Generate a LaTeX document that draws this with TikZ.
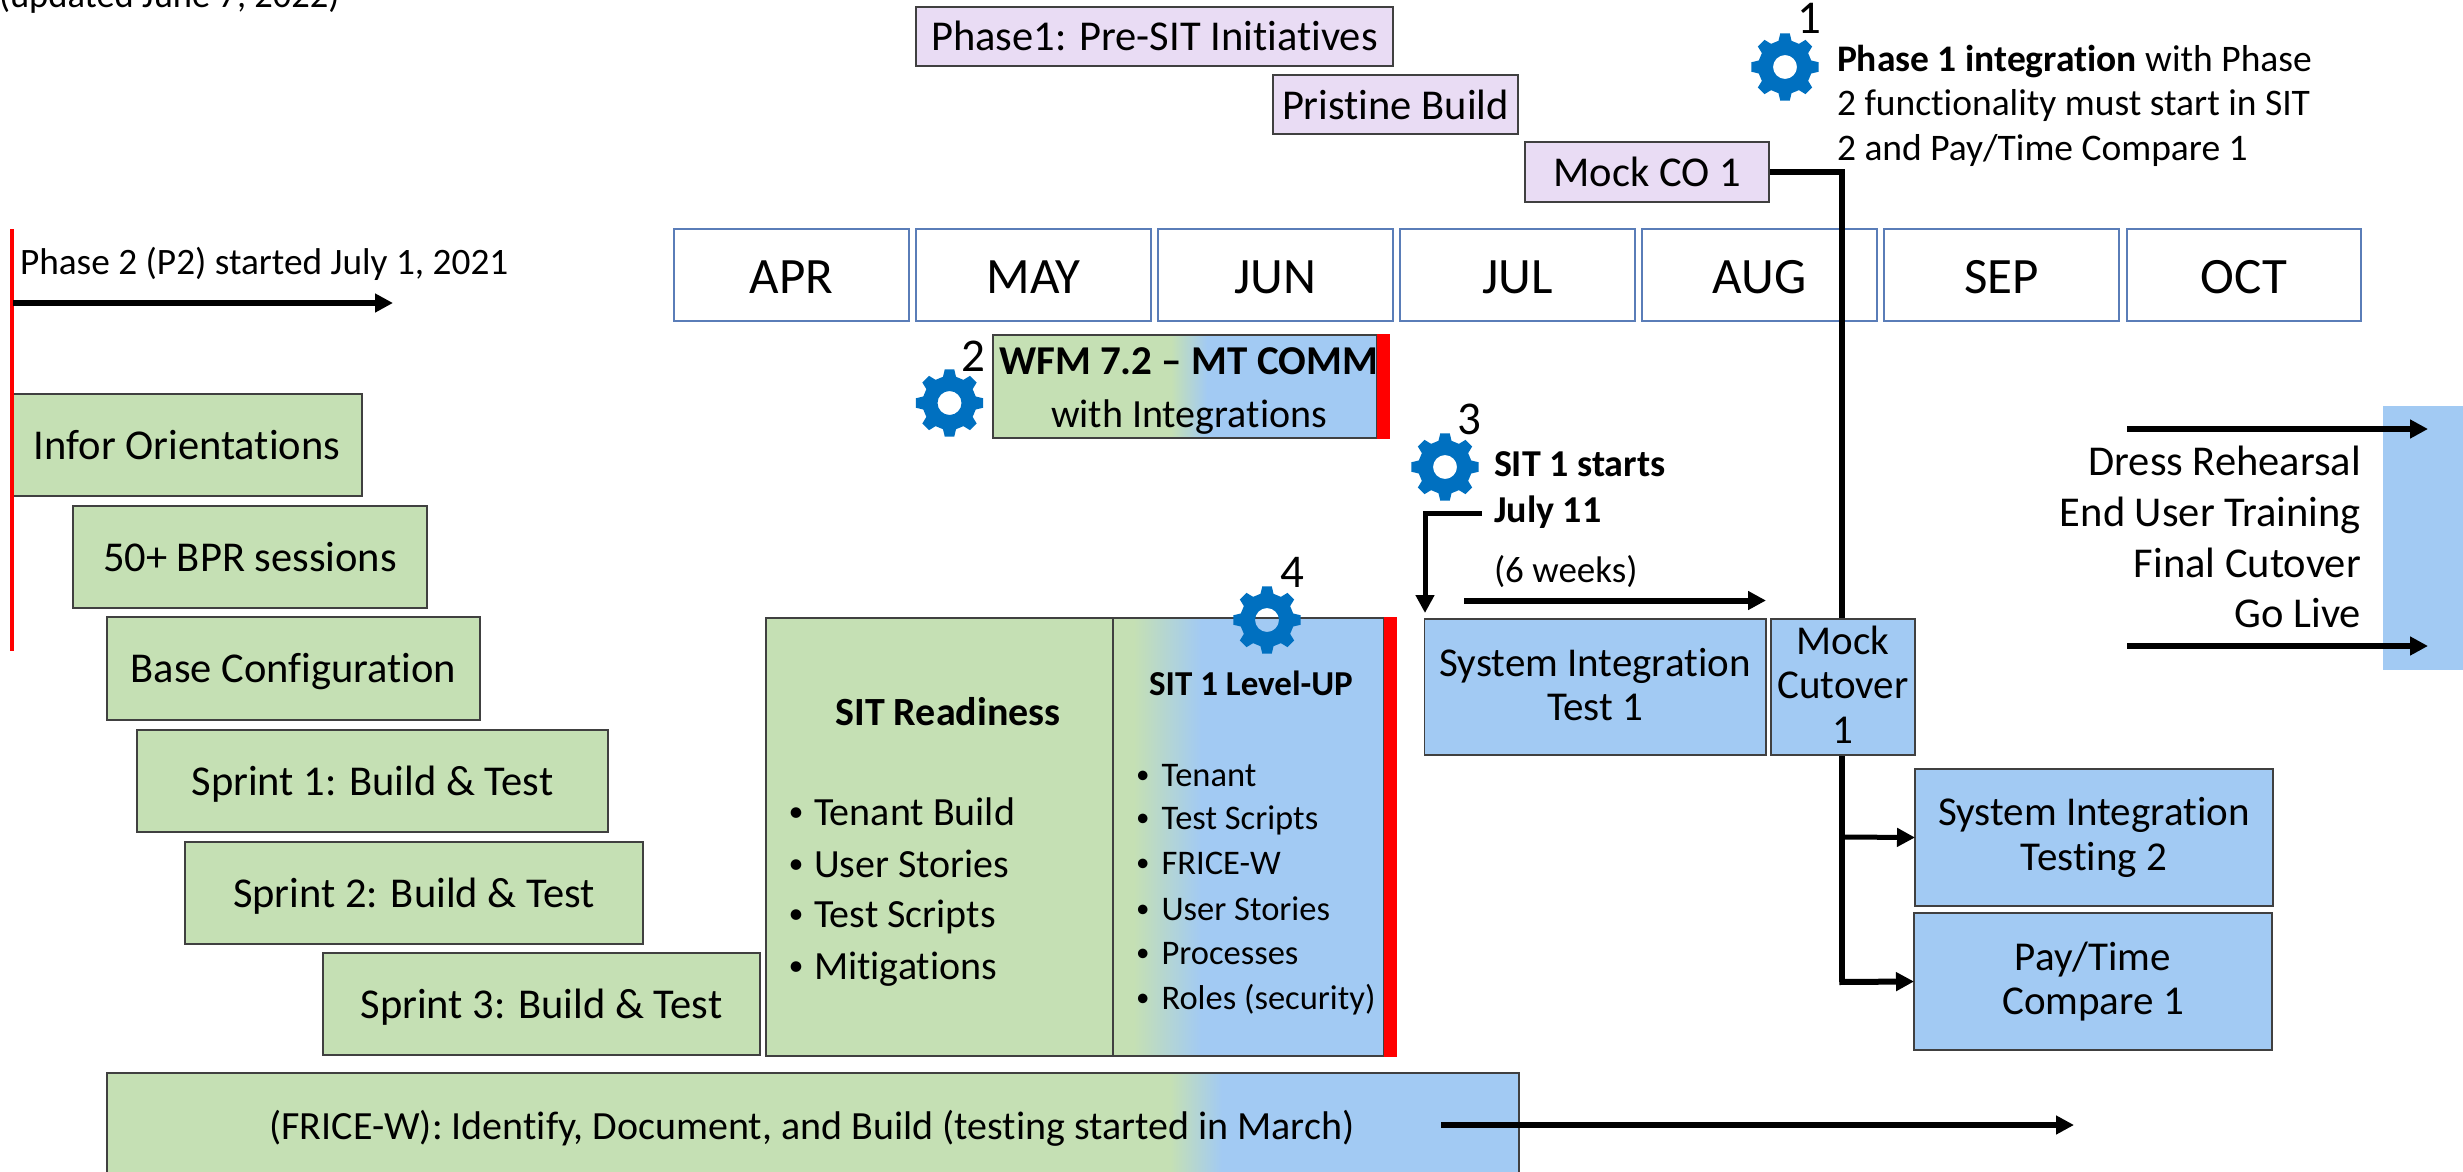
\documentclass[tikz,border=0pt]{standalone}
\usepackage{fontspec}
\setmainfont{Carlito}[Ligatures=NoCommon]
\usetikzlibrary{arrows.meta}
\definecolor{gr}{HTML}{C5E0B4}
\definecolor{bl}{HTML}{A2CAF3}
\definecolor{pu}{HTML}{E9DCF4}
\definecolor{bd}{HTML}{404040}
\definecolor{mo}{HTML}{5A7DB8}
\definecolor{gearblue}{HTML}{0070C0}
\pgfdeclarelayer{bottom}
\pgfdeclarelayer{lines}
\pgfsetlayers{bottom,lines,main}
\newcommand{\fs}[2]{\fontsize{#1}{#2}\selectfont}
\newcommand{\mybox}[7]{\node[shapebox,#6,minimum width={(#4-#2)*1pt},minimum height={(#5-#3)*1pt}] (#1) at ({(#2+#4)/2},{(#3+#5)/2}) {#7};}
\newcommand{\gradfill}[6]{%
  \fill[gr] (#1,#2) rectangle (#5+1,#4);
  \fill[bl] (#6-1,#2) rectangle (#3,#4);
  \shade[left color=gr,right color=bl] (#5,#2) rectangle (#6,#4);}
\newcommand{\bigbul}{\raisebox{3.5pt}{\fs{30}{30}•}}
\newcommand{\smallbul}{\raisebox{3pt}{\fs{27}{27}•}}
\tikzset{
  shapebox/.style={rectangle,inner sep=0pt,outer sep=0pt,align=center,text=black,font=\fs{41}{44.5}},
  greenbox/.style={draw=bd,line width=1.5pt,fill=gr,font=\fs{42.5}{44},text height=28pt,text depth=0pt},
  bluebox/.style={draw=bd,line width=1.5pt,fill=bl},
  purplebox/.style={draw=bd,line width=1.5pt,fill=pu,font=\fs{42.5}{44},text height=29pt,text depth=0pt},
  openbox/.style={draw=bd,line width=1.5pt},
  monthbox/.style={draw=mo,line width=1.5pt,fill=white,font=\fs{51}{54},text height=36pt,text depth=0pt},
  txt/.style={inner sep=0pt,outer sep=0pt,anchor=base west,font=\fs{41}{44}},
  numtxt/.style={inner sep=0pt,outer sep=0pt,anchor=base,font=\fs{47}{50}},
  thickarrow/.style={line width=6pt,-{Triangle[length=18pt,width=18pt]}},
  thinarrow/.style={line width=5pt,-{Triangle[length=18pt,width=18pt]}},
  gearicon/.pic={
    \fill[gearblue,even odd rule] (-14:27)
      \foreach \a in {0,45,...,315}{ -- (\a-14:27) -- (\a-8:34) -- (\a+8:34) -- (\a+14:27) } -- cycle
      (0,0) circle[radius=12];
  }
}
\begin{document}
\begin{tikzpicture}[x=1pt,y=-1pt]
\useasboundingbox (0,0) rectangle (2463,1172);
\clip (0,0) rectangle (2463,1172);

% title fragment and phase 2 start
\node[txt,font=\fs{36.5}{40}] (updated) at (-1,8) {(updated June 7, 2022)};
\node[txt,font=\fs{37.3}{40}] (p2text) at (20,274) {Phase 2 (P2) started July 1, 2021};

% months
\begin{pgfonlayer}{bottom}
\mybox{apr}{674}{229}{909}{321}{monthbox}{APR}
\mybox{may}{916}{229}{1151}{321}{monthbox}{MAY}
\mybox{jun}{1158}{229}{1393}{321}{monthbox}{JUN}
\mybox{jul}{1400}{229}{1635}{321}{monthbox}{JUL}
\mybox{aug}{1642}{229}{1877}{321}{monthbox}{AUG}
\mybox{sep}{1884}{229}{2119}{321}{monthbox}{SEP}
\mybox{oct}{2127}{229}{2361}{321}{monthbox}{OCT}
\end{pgfonlayer}

% phase 1 boxes
\mybox{pre}{916}{7}{1393}{66}{purplebox}{Phase1: Pre-SIT Initiatives}
\mybox{pristine}{1273}{75}{1518}{134}{purplebox}{Pristine Build}
\mybox{mockco}{1525}{142}{1769}{202}{purplebox}{Mock CO 1}

% left staircase
\mybox{infor}{12}{394}{362}{496}{greenbox}{Infor Orientations}
\mybox{bpr}{73}{506}{427}{608}{greenbox}{50+ BPR sessions}
\mybox{base}{107}{617}{480}{720}{greenbox}{Base Configuration}
\mybox{s1}{137}{730}{608}{832}{greenbox}{Sprint 1: Build \& Test}
\mybox{s2}{185}{842}{643}{944}{greenbox}{Sprint 2: Build \& Test}
\mybox{s3}{323}{953}{760}{1055}{greenbox}{Sprint 3: Build \& Test}

% FRICE-W
\gradfill{107}{1073}{1519}{1190}{1170}{1222}
\mybox{frice}{107}{1073}{1519}{1190}{openbox}{}
\node[txt,anchor=base,font=\fs{40}{44}] (fricetext) at (812,1139) {(FRICE-W): Identify, Document, and Build (testing started in March)};

% SIT Readiness / Level-UP
\mybox{ready}{766}{618}{1113}{1056}{draw=bd,line width=1.5pt,fill=gr}{}
\gradfill{1113}{618}{1384}{1056}{1134}{1201}
\mybox{level}{1113}{618}{1384}{1056}{openbox}{}
\fill[red] (1384,617) rectangle (1397,1057);
\node[txt,anchor=base,font=\bfseries\fs{40}{44}] (readytitle) at (948,725) {SIT Readiness};
\node[txt,anchor=base,font=\bfseries\fs{35}{38}] (leveltitle) at (1251,695) {SIT 1 Level-UP};
\foreach \n/\y/\t in {a/825/Tenant Build,b/877/User Stories,c/927/Test Scripts,d/979/Mitigations}
  \node[txt,font=\fs{40}{44}] (ready\n) at (788.5,\y) {\makebox[25.5pt][l]{\bigbul}\t};
\foreach \n/\y/\t in {a/786/Tenant,b/829/Test Scripts,c/874.5/FRICE-W,d/920/User Stories,e/964/Processes,f/1009.5/Roles (security)}
  \node[txt,font=\fs{34.5}{38}] (level\n) at (1136,\y) {\makebox[25.5pt][l]{\smallbul}\t};

% WFM
\gradfill{993}{335}{1377}{438}{1171}{1207}
\mybox{wfm}{993}{335}{1377}{438}{openbox}{}
\fill[red] (1377,334) rectangle (1390,439);
\node[txt,anchor=base,font=\bfseries\fs{41}{44}] (wfma) at (1188.5,374) {WFM 7.2 – MT COMM};
\node[txt,anchor=base,font=\fs{40}{44}] (wfmb) at (1189,427) {with Integrations};

% SIT / mock / compare
\mybox{sit1}{1424.5}{619}{1766}{755}{bluebox}{System Integration\\Test 1\rule[-5pt]{0pt}{0pt}}
\mybox{mock1}{1771}{619}{1915}{755}{bluebox}{Mock\\Cutover\\1\rule[-5pt]{0pt}{0pt}}
\mybox{sit2}{1915}{769}{2273}{906}{bluebox}{System Integration\\Testing 2}
\mybox{pay}{1914}{913}{2272}{1050}{bluebox}{Pay/Time\\Compare 1}

% go-live band
\mybox{golive}{2383}{406}{2470}{670}{fill=bl}{}
\node[txt,anchor=base east,font=\fs{42.5}{44}] (dress) at (2361,475) {Dress Rehearsal};
\node[txt,anchor=base east,font=\fs{42.5}{44}] (eut) at (2361,526.5) {End User Training};
\node[txt,anchor=base east,font=\fs{42.5}{44}] (final) at (2361,577.5) {Final Cutover};
\node[txt,anchor=base east,font=\fs{42.5}{44}] (golivetxt) at (2361,627) {Go Live};

% annotations
\node[txt,font=\fs{37.5}{45}] (p1a) at (1837,71) {\textbf{Phase 1 integration} with Phase};
\node[txt,font=\fs{37.5}{45}] (p1b) at (1837,115.5) {2 functionality must start in SIT};
\node[txt,font=\fs{37.5}{45}] (p1c) at (1837,160) {2 and Pay/Time Compare 1};
\node[txt,font=\bfseries\fs{38}{45}] (sitstart) at (1494,476) {SIT 1 starts};
\node[txt,font=\bfseries\fs{38}{45}] (sitdate) at (1494,522) {July 11};
\node[txt,font=\fs{37}{40}] (six) at (1494,582) {(6 weeks)};

% gears and numbers
\pic (g1) at (1785,67) {gearicon};
\pic (g2) at (949.5,403) {gearicon};
\pic (g3) at (1445,467) {gearicon};
\pic (g4) at (1267,620) {gearicon};
\node[numtxt] (n1) at (1809.5,34) {1};
\node[numtxt] (n2) at (973.5,371) {2};
\node[numtxt] (n3) at (1469,434) {3};
\node[numtxt] (n4) at (1292,587) {4};

% connectors
\coordinate (p2s) at (13,303);
\coordinate (p2e) at (393,303);
\coordinate (sixs) at (1464,600.5);
\coordinate (sixe) at (1766,600.5);
\coordinate (d1s) at (2127,429);
\coordinate (d1e) at (2428,429);
\coordinate (d2s) at (2127,646);
\coordinate (d2e) at (2428,646);
\coordinate (fs) at (1441,1125);
\coordinate (fe) at (2074,1125);
\coordinate (sits) at (1482,513);
\coordinate (sitd) at (1425,613);
\draw[red,line width=4pt] (12,229) -- (12,651);
\draw[thickarrow] (p2s) -- (p2e);
\draw[thickarrow] (sixs) -- (sixe);
\draw[thickarrow] (d1s) -- (d1e);
\draw[thickarrow] (d2s) -- (d2e);
\draw[thickarrow] (fs) -- (fe);
\draw[thinarrow] (sits) -| (sitd);
\begin{pgfonlayer}{lines}
\draw[line width=5.5pt,line cap=butt] (mockco.east) -- ++(73,0) -- ++(0,810);
\end{pgfonlayer}
\coordinate (tk) at (1842,837);
\coordinate (tkb) at (1839.3,982);
\draw[thinarrow] (tk) -- (sit2.west);
\draw[thickarrow] (tkb) -- (pay.west);
\end{tikzpicture}
\end{document}
